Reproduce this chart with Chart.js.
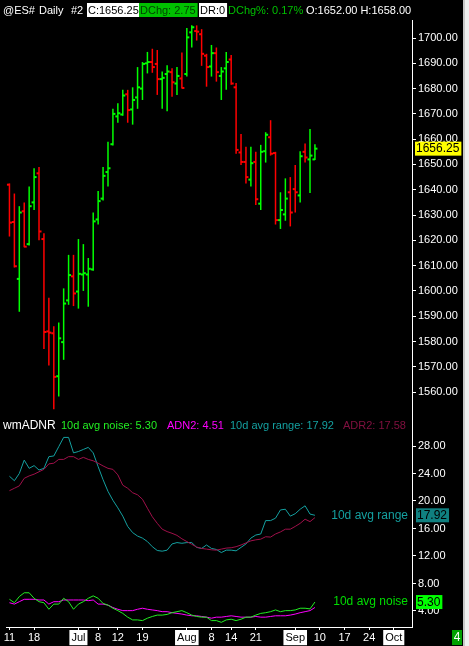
<!DOCTYPE html>
<html>
<head>
<meta charset="utf-8">
<script src="https://cdn.jsdelivr.net/npm/chart.js@4.4.0/dist/chart.umd.min.js"></script>
<style>
  html, body { margin: 0; padding: 0; background: #000; }
  canvas { display: block; }
</style>
</head>
<body>
<canvas id="myChart" width="469" height="646"></canvas>
<script>
// daily bars (@ES#)
var opens  = [1642, 1627.25, 1604.75, 1631.5, 1618.5, 1635, 1646.5, 1620.5, 1584, 1583.25,
              1566.25, 1579.75, 1596.25, 1605.75, 1599.75, 1606.5, 1606.5, 1608.5, 1628.25, 1636.5,
              1647, 1658, 1669, 1669.75, 1677.75, 1671.75, 1676.5, 1680, 1690, 1690.5,
              1689.75, 1683.75, 1685.75, 1686.5, 1682, 1684, 1685.75, 1702.25, 1702.75, 1701.5,
              1693, 1688.75, 1694, 1685, 1688, 1691.5, 1680.5, 1654.75, 1651, 1644,
              1651, 1634.5, 1655.25, 1660.75, 1654.5, 1628, 1630.25, 1639, 1640.25, 1637.75,
              1655, 1652, 1652];
var highs  = [1642.5, 1638.5, 1633.5, 1635, 1641.25, 1648.5, 1649, 1622.75, 1597.25, 1586,
              1587.5, 1601, 1614.25, 1614.25, 1620.5, 1618.5, 1613, 1631, 1639.5, 1649,
              1659, 1672, 1674.25, 1679.5, 1679.5, 1680.5, 1688.5, 1690.5, 1694.5, 1695.75,
              1695.25, 1686.75, 1689.25, 1688, 1688.5, 1694.25, 1704, 1705, 1705, 1703.5,
              1693.75, 1697.25, 1696.25, 1688.5, 1694.5, 1693.25, 1682.25, 1662, 1657, 1657,
              1655, 1657.75, 1662.75, 1667.5, 1655, 1639, 1644.5, 1645, 1649.75, 1655.25,
              1658.25, 1664, 1658];
var lows   = [1621.5, 1609.25, 1591.75, 1617.25, 1618, 1632, 1620, 1577, 1570.5, 1553.25,
              1558.25, 1572.75, 1594.5, 1594, 1593, 1600, 1593.75, 1608, 1626.25, 1635.75,
              1641.25, 1657.5, 1666.5, 1669.25, 1666.5, 1665.75, 1672, 1675.5, 1686, 1686.25,
              1677.5, 1672, 1671, 1676.75, 1677.5, 1680, 1684.75, 1696.25, 1699, 1689,
              1680.75, 1684.75, 1682.75, 1675.5, 1679.5, 1681.5, 1654.25, 1649.75, 1642.5, 1641.25,
              1634, 1632, 1650.75, 1653.5, 1626.25, 1624.5, 1627.75, 1625.5, 1631, 1635,
              1650.75, 1638.75, 1651.75];
var closes = [1627, 1609.75, 1631, 1617.5, 1633.5, 1645, 1623.5, 1583.75, 1583.5, 1566,
              1581.25, 1595, 1606.25, 1599, 1606.75, 1607, 1608.75, 1627.5, 1635.5, 1645.5,
              1648.5, 1670, 1670.25, 1677.25, 1671.5, 1675.5, 1680.5, 1689.75, 1690.5, 1688.5,
              1683.75, 1684.25, 1686.75, 1682.5, 1685, 1680.25, 1700.25, 1704.25, 1702.5, 1693.75,
              1688.5, 1694, 1686.5, 1686.75, 1690.5, 1682, 1655.75, 1651, 1645, 1650.5,
              1636.25, 1655, 1661.75, 1654.25, 1628, 1632, 1636.5, 1631, 1639, 1653.25,
              1652.75, 1653.5, 1656.25];

// wmADNR pane
var rangeAvg = [23.6, 22.95, 24.0, 25.95, 24.75, 25.15, 24.5, 24.75, 26.45, 26.55,
                27.9, 29.25, 29.25, 27.0, 27.2, 27.5, 27.8, 27.0, 25.0, 23.1,
                21.4, 20.1, 19.0, 17.8, 16.3, 15.4, 14.9, 14.6, 14.1, 13.35,
                12.8, 12.7, 12.85, 13.75, 13.95, 13.85, 13.95, 13.95, 13.25, 13.1,
                13.6, 13.1, 12.95, 12.5, 12.85, 12.85, 12.75, 13.25, 13.75, 14.6,
                15.05, 15.2, 17.15, 17.15, 17.5, 18.7, 18.8, 17.8, 18.15, 18.8,
                19.3, 18.1, 17.92];
var adr2     = [21.5, 21.85, 22.2, 23.3, 23.65, 23.9, 24.25, 24.6, 25.4, 25.5,
                26.05, 26.05, 26.45, 26.45, 26.05, 26.35, 26.05, 25.85, 25.5, 25.1,
                24.75, 24.6, 23.8, 22.3, 21.85, 21.2, 20.9, 20.25, 18.95, 17.7,
                16.75, 15.9, 15.55, 15.3, 15.0, 14.5, 14.1, 13.7, 13.3, 13.1,
                13.0, 12.9, 12.85, 13.0, 13.15, 13.2, 13.35, 13.6, 13.9, 14.2,
                14.35, 14.45, 14.8, 14.75, 15.2, 15.5, 15.9, 15.9, 16.3, 16.75,
                17.35, 17.0, 17.58];
var noiseAvg = [5.7, 5.2, 6.1, 6.65, 6.65, 5.85, 5.35, 5.2, 4.25, 5.0,
                5.0, 5.85, 5.35, 4.25, 5.0, 5.35, 5.85, 6.2, 5.85, 5.1,
                4.85, 4.4, 4.05, 3.65, 3.1, 2.7, 2.7, 2.6, 2.95, 3.2,
                3.4, 3.4, 3.5, 3.75, 3.9, 4.05, 3.75, 3.4, 3.2, 3.1,
                3.1, 2.6, 2.6, 2.35, 2.7, 2.8, 2.6, 2.8, 3.1, 3.1,
                3.4, 3.65, 3.75, 3.9, 4.15, 3.9, 4.05, 4.05, 4.15, 4.4,
                4.4, 4.3, 5.3];
var adn2     = [5.2, 5.0, 5.35, 5.7, 5.7, 5.7, 5.6, 5.6, 5.0, 5.35,
                5.35, 5.6, 5.6, 5.6, 5.6, 5.6, 5.5, 5.6, 5.0, 5.0,
                4.85, 4.5, 4.25, 4.05, 4.05, 4.05, 4.25, 4.4, 4.25, 4.15,
                4.05, 3.9, 3.9, 3.75, 3.65, 3.55, 3.4, 3.3, 3.3, 3.2,
                3.1, 2.95, 3.1, 3.1, 3.2, 3.3, 3.2, 3.1, 3.1, 3.1,
                3.2, 3.1, 3.1, 3.2, 3.3, 3.3, 3.3, 3.4, 3.55, 3.75,
                3.9, 4.05, 4.51];

// axis ticks
var priceTicks = [1560, 1570, 1580, 1590, 1600, 1610, 1620, 1630, 1640, 1650, 1660, 1670, 1680, 1690, 1700];
var indTicks = [4, 8, 12, 16, 20, 24, 28];
var dateTickIdx = [0, 5, 14, 18, 22, 27, 36, 41, 45, 50, 58, 63, 68, 73, 78];
var dateTickLabels = ["11", "18", "Jul", "8", "12", "19", "Aug", "8", "14", "21", "Sep", "10", "17", "24", "Oct"];
var monthLabels = ["Jul", "Aug", "Sep", "Oct"];

var GREEN = "#00ff00";
var RED = "#ff0000";
var TEAL = "#14a0a0";
var MAROON = "#a0104a";
var NOISE = "#22ee22";
var MAGENTA = "#ff00ff";
var FONT = "Liberation Sans";

var barColors = closes.map(function (c, i) { return c >= opens[i] ? GREEN : RED; });

function xy(arr) {
    return arr.map(function (v, i) { return { x: i, y: v }; });
}

function boxText(ctx, text, x, y, color, bg, size) {
    ctx.font = (size || 11) + "px '" + FONT + "'";
    var w = ctx.measureText(text).width;
    if (bg) {
        ctx.fillStyle = bg;
        ctx.fillRect(x - 1, y - 7, w + 3, 14);
    }
    ctx.fillStyle = color;
    ctx.textBaseline = "middle";
    ctx.textAlign = "left";
    ctx.fillText(text, x, y + 0.5);
    return w;
}

var overlay = {
    id: "overlay",
    beforeDraw: function (chart) {
        var ctx = chart.ctx;
        ctx.save();
        ctx.fillStyle = "#000";
        ctx.fillRect(0, 0, chart.width, chart.height);
        ctx.restore();
    },
    afterDraw: function (chart) {
        var ctx = chart.ctx;
        var n = closes.length - 1;
        ctx.save();

        // header line
        var chg = closes[n] - closes[n - 1];
        boxText(ctx, "@ES#", 3, 10, "#fff");
        boxText(ctx, "Daily", 39, 10, "#fff");
        boxText(ctx, "#2", 71, 10, "#fff");
        boxText(ctx, "C:" + closes[n].toFixed(2), 88, 10, "#000", "#fff");
        boxText(ctx, "DChg: " + chg.toFixed(2), 140, 10, "#004400", "#00c000");
        boxText(ctx, "DR:0", 200, 10, "#000", "#fff");
        boxText(ctx, "DChg%: " + (chg / closes[n - 1] * 100).toFixed(2) + "%", 228, 10, "#00c000");
        boxText(ctx, "O:" + opens[n].toFixed(2) + " H:" + highs[n].toFixed(2), 306, 10, "#fff");

        // indicator legend
        boxText(ctx, "wmADNR", 3, 425, "#fff", null, 12);
        boxText(ctx, "10d avg noise: " + noiseAvg[n].toFixed(2), 61, 425, NOISE, null, 11);
        boxText(ctx, "ADN2: " + adn2[n].toFixed(2), 167, 425, MAGENTA, null, 11);
        boxText(ctx, "10d avg range: " + rangeAvg[n].toFixed(2), 230, 425, TEAL, null, 11);
        boxText(ctx, "ADR2: " + adr2[n].toFixed(2), 343, 425, "#80103f", null, 11);

        // last value boxes on the axes
        var yP = chart.scales.y.getPixelForValue(closes[n]);
        boxText(ctx, closes[n].toFixed(2), 416, yP, "#000", "#ffff00", 12);
        var yR = chart.scales.y2.getPixelForValue(rangeAvg[n]);
        boxText(ctx, rangeAvg[n].toFixed(2), 417, yR, "#000", "#108080", 12);
        var yN = chart.scales.y2.getPixelForValue(noiseAvg[n]);
        boxText(ctx, noiseAvg[n].toFixed(2), 417, yN, "#000", "#00ff00", 12);

        ctx.font = "12px '" + FONT + "'";
        ctx.textAlign = "right";
        ctx.textBaseline = "middle";
        ctx.fillStyle = TEAL;
        ctx.fillText("10d avg range", 408, yR);
        ctx.fillStyle = "#00dd00";
        ctx.fillText("10d avg noise", 408, yN);

        // page number box and right frame
        ctx.fillStyle = "#00a000";
        ctx.fillRect(452, 630, 10, 15);
        ctx.fillStyle = "#fff";
        ctx.textAlign = "center";
        ctx.fillText("4", 457, 638);
        ctx.fillStyle = "#c8c8c8";
        ctx.fillRect(463, 0, 2, chart.height);
        ctx.fillStyle = "#f0f0f0";
        ctx.fillRect(465, 0, 4, chart.height);
        ctx.restore();
    }
};

var tickFont = { family: FONT, size: 11 };

new Chart("myChart", {
    type: "line",
    data: {
        datasets: [
            {
                label: "open",
                data: xy(opens),
                showLine: false,
                pointStyle: "dash",
                pointRotation: 180,
                pointRadius: 2.5,
                pointBorderWidth: 2,
                pointBorderColor: barColors,
                pointBackgroundColor: barColors,
                yAxisID: "y"
            },
            {
                label: "close",
                data: xy(closes),
                showLine: false,
                pointStyle: "dash",
                pointRotation: 0,
                pointRadius: 2.5,
                pointBorderWidth: 2,
                pointBorderColor: barColors,
                pointBackgroundColor: barColors,
                yAxisID: "y"
            },
            {
                type: "bar",
                label: "range",
                data: lows.map(function (l, i) { return { x: i, y: [l, highs[i]] }; }),
                backgroundColor: barColors,
                barThickness: 1.5,
                inflateAmount: 0,
                grouped: false,
                yAxisID: "y"
            },
            { label: "10d avg noise", data: xy(noiseAvg), borderColor: NOISE, borderWidth: 1, pointRadius: 0, yAxisID: "y2" },
            { label: "ADN2", data: xy(adn2), borderColor: MAGENTA, borderWidth: 1, pointRadius: 0, yAxisID: "y2" },
            { label: "ADR2", data: xy(adr2), borderColor: MAROON, borderWidth: 1, pointRadius: 0, yAxisID: "y2" },
            { label: "10d avg range", data: xy(rangeAvg), borderColor: TEAL, borderWidth: 1, pointRadius: 0, yAxisID: "y2" }
        ]
    },
    options: {
        responsive: false,
        animation: false,
        devicePixelRatio: 1,
        layout: { padding: { top: 20, left: 0, right: 0, bottom: 0 } },
        plugins: { legend: { display: false }, tooltip: { enabled: false } },
        scales: {
            x: {
                type: "linear",
                min: -0.7,
                max: 81.7,
                bounds: "data",
                offset: false,
                afterBuildTicks: function (s) {
                    s.ticks = dateTickIdx.map(function (v) { return { value: v }; });
                },
                afterFit: function (s) { s.height = 19; s.paddingLeft = 0; s.paddingRight = 0; },
                grid: { offset: false, drawOnChartArea: false, color: "#fff", tickLength: 3 },
                border: { color: "#fff" },
                ticks: {
                    autoSkip: false,
                    maxRotation: 0,
                    padding: 1,
                    font: tickFont,
                    callback: function (v, i) { return dateTickLabels[i]; },
                    color: function (c) { return monthLabels.indexOf(dateTickLabels[c.index]) >= 0 ? "#000" : "#fff"; },
                    showLabelBackdrop: true,
                    backdropPadding: { x: 2, y: 1 },
                    backdropColor: function (c) { return monthLabels.indexOf(dateTickLabels[c.index]) >= 0 ? "#fff" : "rgba(0,0,0,0)"; }
                }
            },
            y: {
                type: "linear",
                position: "right",
                stack: "pane",
                stackWeight: 395,
                min: 1550.93,
                max: 1707.12,
                bounds: "data",
                beginAtZero: false,
                afterBuildTicks: function (s) {
                    s.ticks = priceTicks.map(function (v) { return { value: v }; });
                },
                afterFit: function (s) { s.width = 57; s.paddingTop = 0; s.paddingBottom = 0; },
                grid: { drawOnChartArea: false, color: "#fff", tickLength: 4 },
                border: { color: "#fff" },
                ticks: {
                    autoSkip: false,
                    padding: 2,
                    color: "#fff",
                    font: tickFont,
                    callback: function (v) { return v.toFixed(2); }
                }
            },
            y2: {
                type: "linear",
                position: "right",
                stack: "pane",
                stackWeight: 212,
                min: 1.67,
                max: 32.51,
                bounds: "data",
                afterBuildTicks: function (s) {
                    s.ticks = indTicks.map(function (v) { return { value: v }; });
                },
                afterFit: function (s) { s.width = 57; s.paddingTop = 0; s.paddingBottom = 0; },
                grid: { drawOnChartArea: false, color: "#fff", tickLength: 4 },
                border: { color: "#fff" },
                ticks: {
                    autoSkip: false,
                    padding: 2,
                    color: "#fff",
                    font: tickFont,
                    callback: function (v) { return v.toFixed(2); }
                }
            }
        }
    },
    plugins: [overlay]
});
</script>
</body>
</html>
